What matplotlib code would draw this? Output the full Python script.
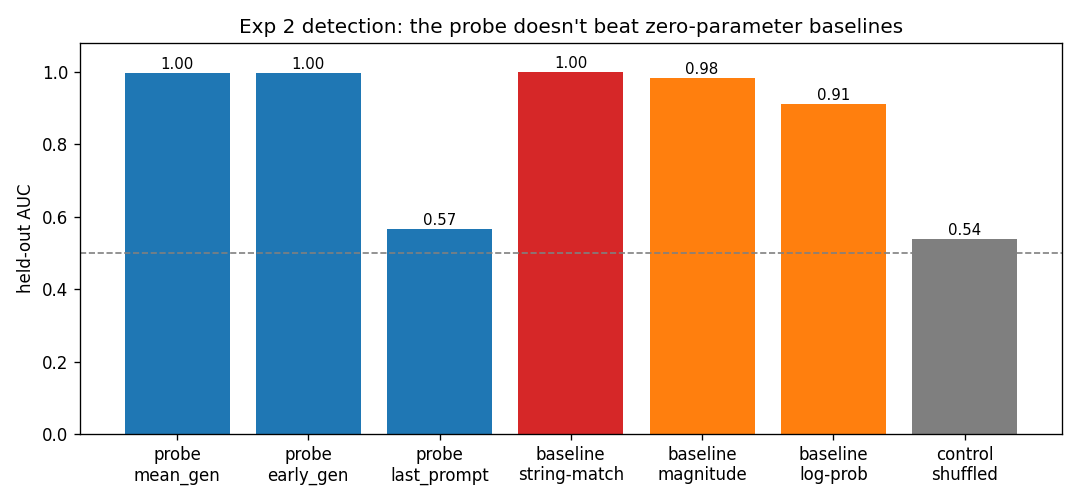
import matplotlib
matplotlib.use("Agg")
import matplotlib.pyplot as plt

labels = ["probe\nmean_gen", "probe\nearly_gen", "probe\nlast_prompt",
          "baseline\nstring-match", "baseline\nmagnitude", "baseline\nlog-prob",
          "control\nshuffled"]
auc = [0.997, 0.996, 0.566, 1.000, 0.983, 0.912, 0.537]
colors = ["tab:blue", "tab:blue", "tab:blue", "tab:red", "tab:orange", "tab:orange", "tab:gray"]

fig, ax = plt.subplots(figsize=(9, 4.2), dpi=120)
bars = ax.bar(range(len(labels)), auc, color=colors)
ax.axhline(0.5, color="gray", linestyle="--", linewidth=1)
for b, v in zip(bars, auc):
    ax.text(b.get_x() + b.get_width() / 2, v + 0.003, f"{v:.2f}",
            ha="center", va="bottom", fontsize=9)
ax.set_xticks(range(len(labels)))
ax.set_xticklabels(labels)
ax.set_ylim(0, 1.08)
ax.set_ylabel("held-out AUC")
ax.set_title("Exp 2 detection: the probe doesn't beat zero-parameter baselines")
plt.subplots_adjust(left=0.074, right=0.983, top=0.915, bottom=0.139)
plt.savefig("out.png")
